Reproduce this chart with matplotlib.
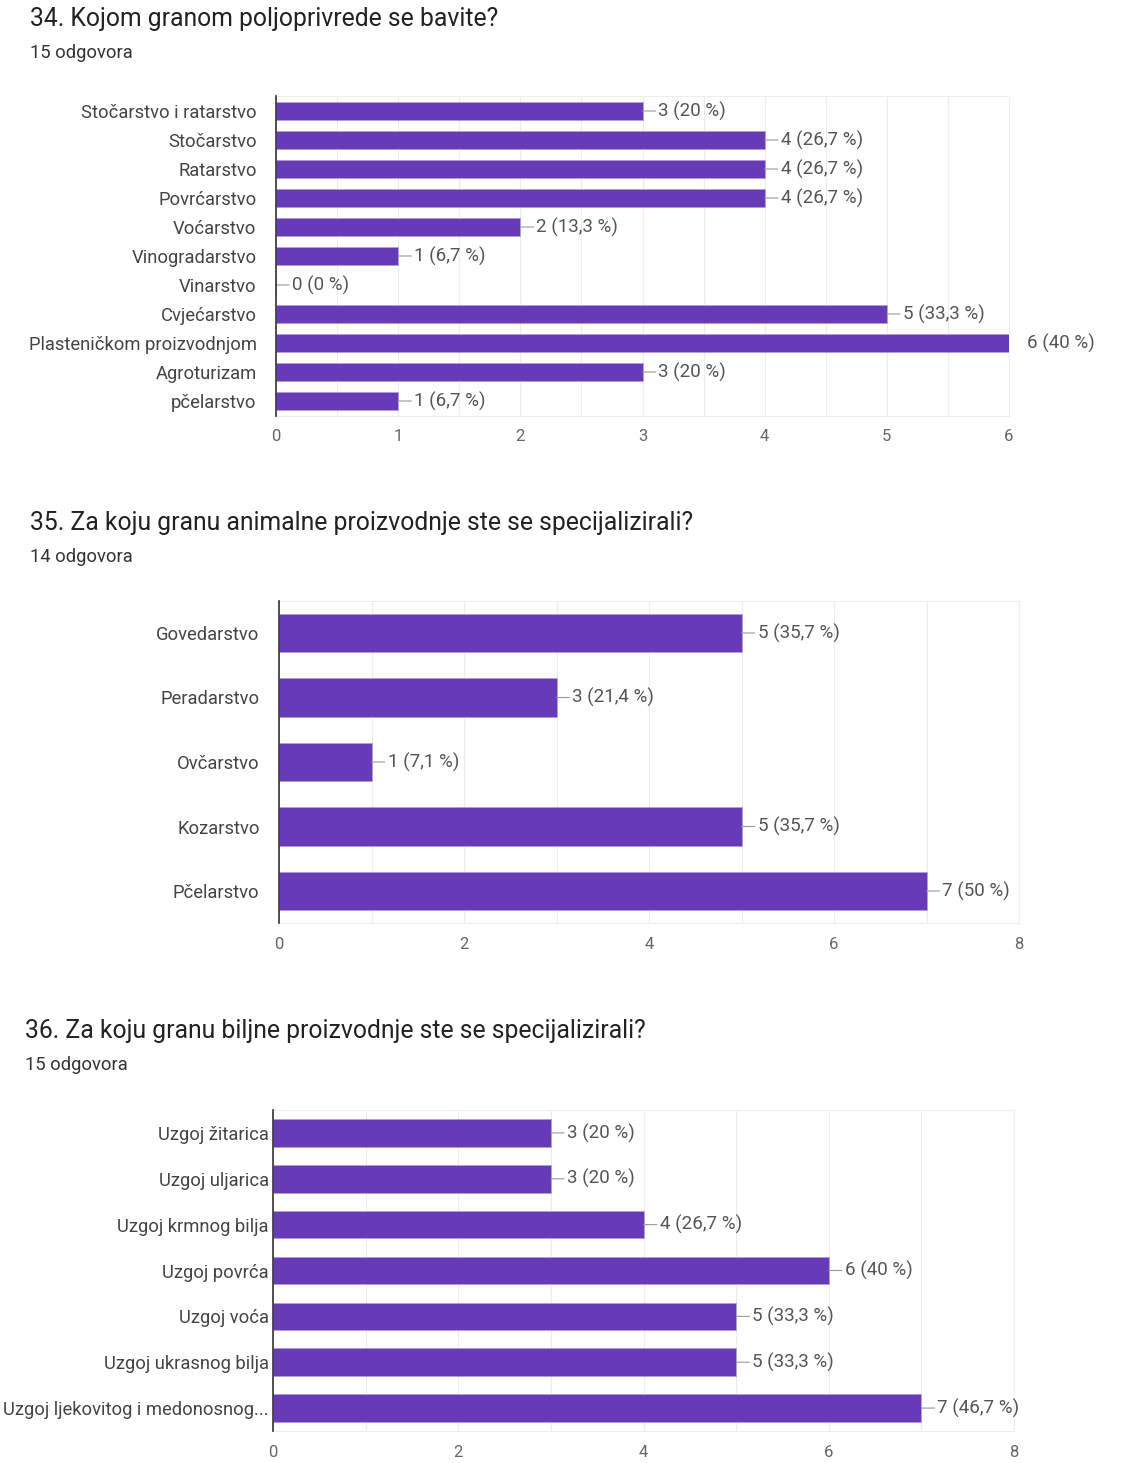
import matplotlib
matplotlib.use("Agg")
import matplotlib.pyplot as plt
from matplotlib.ticker import MultipleLocator

plt.rcParams['font.family'] = ['Roboto', 'DejaVu Sans']

# ---- data ----
q34_title = "34. Kojom granom poljoprivrede se bavite?"
q34_sub = "15 odgovora"
q34_cats = ["Stočarstvo i ratarstvo", "Stočarstvo", "Ratarstvo", "Povrćarstvo", "Voćarstvo",
            "Vinogradarstvo", "Vinarstvo", "Cvjećarstvo", "Plasteničkom proizvodnjom",
            "Agroturizam", "pčelarstvo"]
q34_vals = [3, 4, 4, 4, 2, 1, 0, 5, 6, 3, 1]
q34_pcts = ["20 %", "26,7 %", "26,7 %", "26,7 %", "13,3 %", "6,7 %", "0 %", "33,3 %", "40 %", "20 %", "6,7 %"]

q35_title = "35. Za koju granu animalne proizvodnje ste se specijalizirali?"
q35_sub = "14 odgovora"
q35_cats = ["Govedarstvo", "Peradarstvo", "Ovčarstvo", "Kozarstvo", "Pčelarstvo"]
q35_vals = [5, 3, 1, 5, 7]
q35_pcts = ["35,7 %", "21,4 %", "7,1 %", "35,7 %", "50 %"]

q36_title = "36. Za koju granu biljne proizvodnje ste se specijalizirali?"
q36_sub = "15 odgovora"
q36_cats = ["Uzgoj žitarica", "Uzgoj uljarica", "Uzgoj krmnog bilja", "Uzgoj povrća",
            "Uzgoj voća", "Uzgoj ukrasnog bilja", "Uzgoj ljekovitog i medonosnog..."]
q36_vals = [3, 3, 4, 6, 5, 5, 7]
q36_pcts = ["20 %", "20 %", "26,7 %", "40 %", "33,3 %", "33,3 %", "46,7 %"]

W, H = 1122, 1463
fig = plt.figure(figsize=(W / 100, H / 100), dpi=100)
fig.patch.set_facecolor("white")

BAR = "#673ab7"
TXT = "#444444"
LFS = 13.2
VFS = 13.5


def px_axes(left, right, top, bottom):
    return fig.add_axes([left / W, 1 - bottom / H, (right - left) / W, (bottom - top) / H])


def draw(ax, cats, vals, pcts, xmax, major, minor, ypad, no_line_at_max=False):
    n = len(cats)
    y = list(range(n))
    ax.barh(y, vals, height=0.6, color=BAR, edgecolor="#b39ddb", linewidth=0.6, zorder=3)
    ax.set_ylim(n - 0.5, -0.5)
    ax.set_xlim(0, xmax)
    ax.set_yticks(y)
    ax.set_yticklabels(cats, fontsize=LFS, color=TXT)
    ax.xaxis.set_major_locator(MultipleLocator(major))
    ax.xaxis.set_minor_locator(MultipleLocator(minor))
    ax.tick_params(axis='x', length=0, pad=10, labelsize=12, labelcolor="#666666", which='both')
    ax.tick_params(axis='y', length=0, pad=ypad)
    ax.grid(axis='x', which='both', color="#ececec", linewidth=0.8, zorder=0)
    for s in ["top", "right", "bottom"]:
        ax.spines[s].set_color("#eeeeee")
        ax.spines[s].set_linewidth(0.8)
    ax.spines["left"].set_color("#333333")
    ax.spines["left"].set_linewidth(1.2)
    ax.spines["left"].set_zorder(4)
    for yi, v, p in zip(y, vals, pcts):
        label = f"{v} ({p})"
        if no_line_at_max and v == xmax:
            ax.annotate(label, xy=(v, yi), xytext=(18, 0), textcoords='offset pixels',
                        va='center', ha='left', fontsize=VFS, color="#555555",
                        annotation_clip=False)
        else:
            ax.annotate(label, xy=(v, yi), xytext=(16, 0), textcoords='offset pixels',
                        va='center', ha='left', fontsize=VFS, color="#555555",
                        arrowprops=dict(arrowstyle='-', color="#999999", lw=0.8,
                                        shrinkA=0, shrinkB=0, relpos=(0, 0.5)),
                        annotation_clip=False)


# titles
TFS = 17.8
SFS = 13.2
fig.text(30 / W, 1 - 19 / H, q34_title, fontsize=TFS, color="#222222", va='center', ha='left')
fig.text(30 / W, 1 - 53 / H, q34_sub, fontsize=SFS, color="#333333", va='center', ha='left')
fig.text(30 / W, 1 - 523 / H, q35_title, fontsize=TFS, color="#222222", va='center', ha='left')
fig.text(30 / W, 1 - 557 / H, q35_sub, fontsize=SFS, color="#333333", va='center', ha='left')
fig.text(25 / W, 1 - 1031 / H, q36_title, fontsize=TFS, color="#222222", va='center', ha='left')
fig.text(25 / W, 1 - 1065 / H, q36_sub, fontsize=SFS, color="#333333", va='center', ha='left')

ax1 = px_axes(276, 1009, 96.5, 415.5)
draw(ax1, q34_cats, q34_vals, q34_pcts, 6, 1, 0.5, 14, no_line_at_max=True)

ax2 = px_axes(279, 1019, 600.75, 923.25)
draw(ax2, q35_cats, q35_vals, q35_pcts, 8, 2, 1, 14)

ax3 = px_axes(273, 1014, 1110, 1431)
draw(ax3, q36_cats, q36_vals, q36_pcts, 8, 2, 1, 3)

fig.savefig("out.png", dpi=100, facecolor="white")
